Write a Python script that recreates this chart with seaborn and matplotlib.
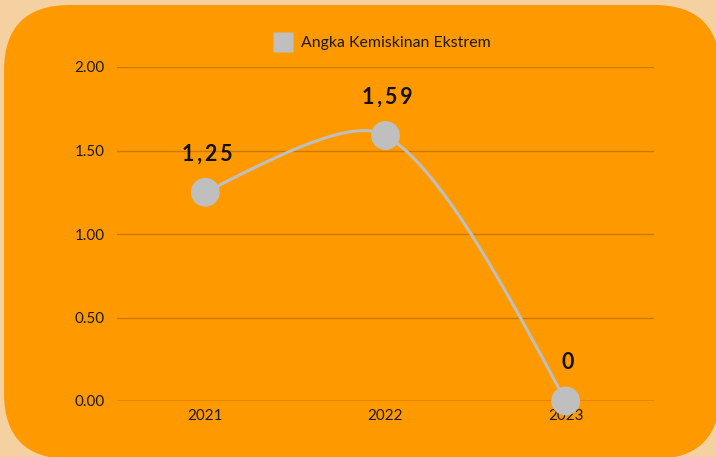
import numpy as np
import pandas as pd
import matplotlib
matplotlib.use("Agg")
import matplotlib.pyplot as plt
import seaborn as sns
from matplotlib.patches import FancyBboxPatch
from matplotlib.transforms import IdentityTransform
from matplotlib.lines import Line2D

# ---- data ----
years = ["2021", "2022", "2023"]
values = [1.25, 1.59, 0.0]
value_labels = ["1,25", "1,59", "0"]
series_name = "Angka Kemiskinan Ekstrem"
yticks = [0.0, 0.5, 1.0, 1.5, 2.0]
ytick_labels = ["0.00", "0.50", "1.00", "1.50", "2.00"]

BG = "#F5D0A0"
ORANGE = "#FF9900"
GREY = "#BFBFBF"

sns.set_theme(style="white")
plt.rcParams["font.family"] = ["Lato", "DejaVu Sans"]

W, H = 716, 457
fig = plt.figure(figsize=(W / 100, H / 100), dpi=100, facecolor=BG)

# rounded orange panel (pixel coordinates)
panel = FancyBboxPatch((4, H - 459), 716, 454,
                       boxstyle="round,pad=0,rounding_size=66",
                       transform=IdentityTransform(), facecolor=ORANGE,
                       edgecolor="none", zorder=-10)
fig.patches.append(panel)

ax = fig.add_axes([117 / W, (H - 401) / H, (654 - 117) / W, (401 - 67) / H])
ax.set_facecolor("none")
ax.set_zorder(5)
ax.set_xlim(-0.49, 2.49)
ax.set_ylim(0, 2)

x = np.arange(len(years), dtype=float)
y = np.array(values, dtype=float)

# smoothed line: distance-weighted cardinal tangents inside, natural ends (pixel space)
tension = 0.24
P = ax.transData.transform(np.column_stack([x, y]))
n = len(P)
prev_cp = [None] * n
next_cp = [None] * n
for i in range(1, n - 1):
    v = P[i + 1] - P[i - 1]
    d01 = np.hypot(*(P[i] - P[i - 1]))
    d12 = np.hypot(*(P[i + 1] - P[i]))
    prev_cp[i] = P[i] - tension * d01 / (d01 + d12) * v
    next_cp[i] = P[i] + tension * d12 / (d01 + d12) * v
next_cp[0] = (P[0] + prev_cp[1]) / 2
prev_cp[n - 1] = (P[n - 1] + next_cp[n - 2]) / 2
segs = []
t = np.linspace(0, 1, 80)[:, None]
for i in range(n - 1):
    p1, c1, c2, p2 = P[i], next_cp[i], prev_cp[i + 1], P[i + 1]
    seg = ((1 - t) ** 3) * p1 + 3 * ((1 - t) ** 2) * t * c1 + 3 * (1 - t) * t ** 2 * c2 + t ** 3 * p2
    segs.append(seg if i == 0 else seg[1:])
curve = ax.transData.inverted().transform(np.vstack(segs))
smooth = pd.DataFrame({"x": curve[:, 0], "y": curve[:, 1]})
pts = pd.DataFrame({"x": x, "y": y, "series": series_name})

sns.lineplot(data=smooth, x="x", y="y", sort=False, color=GREY, linewidth=2.2,
             ax=ax, legend=False, zorder=3)
sns.scatterplot(data=pts, x="x", y="y", color=GREY, s=430, edgecolor="none",
                ax=ax, legend=False, zorder=4, clip_on=False)

for xi, yi, lab in zip(x, y, value_labels):
    spaced = "\u2009".join(lab)
    ax.annotate(spaced, (xi, yi), xytext=(1.5, 23), textcoords="offset points",
                ha="center", va="baseline", fontsize=15.5, fontweight="bold",
                color="#111111", zorder=5)

ax.set_yticks(yticks)
ax.set_yticklabels(ytick_labels)
ax.set_xticks(x)
ax.set_xticklabels(years)
ax.set_xlabel("")
ax.set_ylabel("")
ax.tick_params(axis="both", length=0, labelsize=10.9, labelcolor="#1a1a1a")
ax.tick_params(axis="y", pad=9)
ax.tick_params(axis="x", pad=5.5)
for s in ax.spines.values():
    s.set_visible(False)
for yt in yticks[1:]:
    ax.axhline(yt, color="#C97A00", linewidth=1, zorder=1)
ax.axhline(0, color="#6E4200", linewidth=1, zorder=2)

# legend
handle = Line2D([], [], marker="s", linestyle="none", markersize=14.5,
                markerfacecolor=GREY, markeredgecolor="none")
fig.legend([handle], [series_name], loc="center", bbox_to_anchor=(379 / W, 1 - 43 / H),
           frameon=False, fontsize=11.4, handletextpad=0.15, borderaxespad=0,
           labelcolor="#1a1a1a")

fig.savefig("out.png", dpi=100, facecolor=BG)
